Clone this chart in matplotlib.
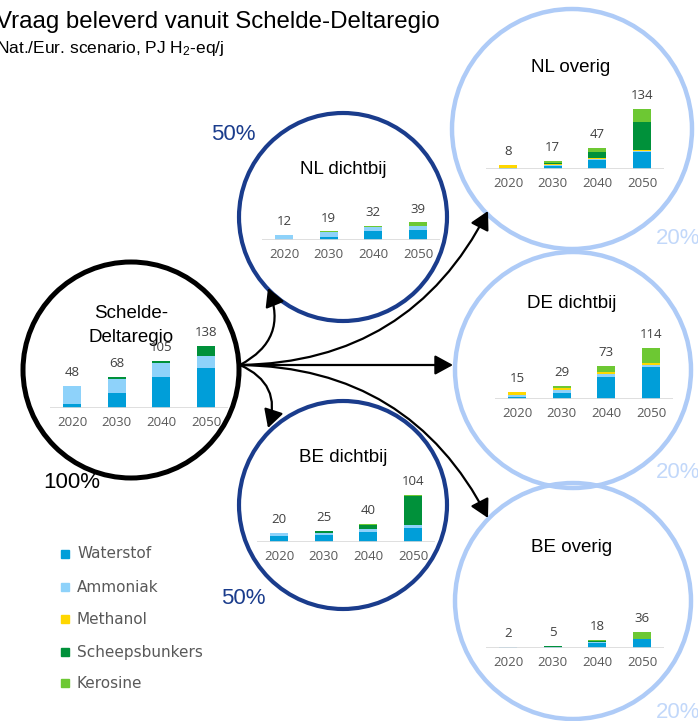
import numpy as np
import matplotlib
matplotlib.use("Agg")
import matplotlib.pyplot as plt
from matplotlib.patches import Circle, FancyArrowPatch

plt.rcParams['font.family'] = ['Liberation Sans', 'DejaVu Sans']
plt.rcParams['mathtext.fontset'] = 'custom'
plt.rcParams['mathtext.rm'] = 'Liberation Sans'
plt.rcParams['mathtext.default'] = 'regular'

'''
Data: PJ H2-eq/j per carrier, per region, for 2020/2030/2040/2050
'''
years = ['2020', '2030', '2040', '2050']
carriers = ['Waterstof', 'Ammoniak', 'Methanol', 'Scheepsbunkers', 'Kerosine']
colors = ['#009ED9', '#8ED2FA', '#FFD700', '#00913A', '#6DC833']

schelde_w = [10, 33, 69, 89]
schelde_a = [38, 32, 31, 26]
schelde_m = [0, 0, 0, 0]
schelde_s = [0, 3, 5, 23]
schelde_k = [0, 0, 0, 0]
schelde_tot = [48, 68, 105, 138]

nl_dicht_w = [0, 6, 19, 22]
nl_dicht_a = [12, 11, 9, 10]
nl_dicht_m = [0, 0, 0, 0]
nl_dicht_s = [0, 0, 0, 0]
nl_dicht_k = [0, 2, 4, 7]
nl_dicht_tot = [12, 19, 32, 39]

nl_ov_w = [2, 7, 20, 37]
nl_ov_a = [0, 2, 3, 2]
nl_ov_m = [6, 2, 1, 4]
nl_ov_s = [0, 2, 13, 62]
nl_ov_k = [0, 4, 10, 29]
nl_ov_tot = [8, 17, 47, 134]

de_dicht_w = [4, 13, 50, 72]
de_dicht_a = [6, 7, 6, 4]
de_dicht_m = [5, 4, 4, 5]
de_dicht_s = [0, 0, 0, 0]
de_dicht_k = [0, 5, 13, 33]
de_dicht_tot = [15, 29, 73, 114]

be_dicht_w = [13, 15, 22, 32]
be_dicht_a = [7, 6, 6, 5]
be_dicht_m = [0, 0, 0, 0]
be_dicht_s = [0, 4, 10, 66]
be_dicht_k = [0, 0, 2, 1]
be_dicht_tot = [20, 25, 40, 104]

be_ov_w = [1, 3, 12, 19]
be_ov_a = [1, 0, 1, 0]
be_ov_m = [0, 0, 0, 0]
be_ov_s = [0, 1, 2, 2]
be_ov_k = [0, 1, 3, 15]
be_ov_tot = [2, 5, 18, 36]

W, H = 698, 721
fig = plt.figure(figsize=(W / 100, H / 100), dpi=100)

# overlay in pixel coordinates
ax0 = fig.add_axes([0, 0, 1, 1])
ax0.set_xlim(0, W)
ax0.set_ylim(H, 0)
ax0.axis('off')

navy = '#1A3C8C'
light = '#AECBF7'

'''
Circles
'''
ax0.add_patch(Circle((131, 370), 108, fill=False, ec='black', lw=3.6))
ax0.add_patch(Circle((343, 217), 104, fill=False, ec=navy, lw=3.0))
ax0.add_patch(Circle((343, 505), 104, fill=False, ec=navy, lw=3.0))
ax0.add_patch(Circle((572, 129), 120, fill=False, ec=light, lw=3.2))
ax0.add_patch(Circle((573, 370), 118, fill=False, ec=light, lw=3.2))
ax0.add_patch(Circle((573, 601), 118, fill=False, ec=light, lw=3.2))

'''
Arrows
'''
start = (240, 365)
arrow_targets = [((268, 288), 0.45), ((488, 211), 0.3), ((453, 365), 0.0),
                 ((268, 428), -0.45), ((488, 518), -0.3)]
for tgt, rad in arrow_targets:
    ar = FancyArrowPatch(start, tgt, connectionstyle='arc3,rad=%s' % rad,
                         arrowstyle='-|>,head_length=0.55,head_width=0.3',
                         mutation_scale=20, lw=1.6, color='black',
                         shrinkA=0, shrinkB=0)
    ax0.add_patch(ar)

'''
Texts
'''
ax0.text(-4, 22, 'Vraag beleverd vanuit Schelde-Deltaregio', fontsize=17.3,
         va='center', ha='left')
ax0.text(-4, 49, 'Nat./Eur. scenario, PJ H$_2$-eq/j', fontsize=12.5,
         va='center', ha='left')

ax0.text(131, 314, 'Schelde-', fontsize=13.5, ha='center', va='center')
ax0.text(131, 337, 'Deltaregio', fontsize=13.5, ha='center', va='center')
ax0.text(343, 170, 'NL dichtbij', fontsize=13.5, ha='center', va='center')
ax0.text(343, 457, 'BE dichtbij', fontsize=13.5, ha='center', va='center')
ax0.text(571, 68, 'NL overig', fontsize=13.5, ha='center', va='center')
ax0.text(572, 303, 'DE dichtbij', fontsize=13.5, ha='center', va='center')
ax0.text(572, 547, 'BE overig', fontsize=13.5, ha='center', va='center')

ax0.text(233, 135, '50%', fontsize=16, color=navy, ha='center', va='center')
ax0.text(243, 598, '50%', fontsize=16, color=navy, ha='center', va='center')
ax0.text(72, 482, '100%', fontsize=16, color='black', ha='center', va='center')
for yy in [238, 473, 712]:
    ax0.text(656, yy, '20%', fontsize=16, color='#C2D8FA', ha='left', va='center')

'''
Legend
'''
leg_y = [554, 587, 619, 652, 683]
for name, col, yy in zip(carriers, colors, leg_y):
    ax0.add_patch(plt.Rectangle((61, yy - 4), 8, 8, color=col))
    ax0.text(77, yy, name, fontsize=11, color='#595959', va='center',
             ha='left', family='DejaVu Sans')

'''
Bar charts inside the circles
'''
slot = 44.7
px_per_unit = 0.45
ax_h = 90


def add_chart(first_x, base_y, series, totals):
    left = first_x - slot / 2
    ax = fig.add_axes([left / W, (H - base_y) / H, slot * 4 / W, ax_h / H])
    ax.patch.set_visible(False)
    x = np.arange(len(years))
    bottom = np.zeros(len(years))
    for vals, col in zip(series, colors):
        vals = np.array(vals, dtype=float)
        ax.bar(x, vals, bottom=bottom, width=0.4, color=col, lw=0)
        bottom += vals
    for xi, tot in zip(x, totals):
        ax.annotate(str(tot), (xi, tot), xytext=(0, 5), textcoords='offset points',
                    ha='center', va='bottom', fontsize=9.5, color='#404040',
                    family='Open Sans')
    ax.set_xlim(-0.5, 3.5)
    ax.set_ylim(0, ax_h / px_per_unit)
    ax.axhline(0, color='#D9D9D9', lw=1.2)
    for s in ax.spines.values():
        s.set_visible(False)
    ax.set_yticks([])
    ax.set_xticks(x)
    ax.set_xticklabels(years, fontsize=9.5, color='#595959', family='Open Sans')
    ax.tick_params(axis='x', length=0, pad=6)
    return ax


add_chart(72, 408, [schelde_w, schelde_a, schelde_m, schelde_s, schelde_k], schelde_tot)
add_chart(284, 240, [nl_dicht_w, nl_dicht_a, nl_dicht_m, nl_dicht_s, nl_dicht_k], nl_dicht_tot)
add_chart(508, 169, [nl_ov_w, nl_ov_a, nl_ov_m, nl_ov_s, nl_ov_k], nl_ov_tot)
add_chart(517, 399, [de_dicht_w, de_dicht_a, de_dicht_m, de_dicht_s, de_dicht_k], de_dicht_tot)
add_chart(279, 542, [be_dicht_w, be_dicht_a, be_dicht_m, be_dicht_s, be_dicht_k], be_dicht_tot)
add_chart(508, 648, [be_ov_w, be_ov_a, be_ov_m, be_ov_s, be_ov_k], be_ov_tot)

fig.savefig('out.png', dpi=100)
